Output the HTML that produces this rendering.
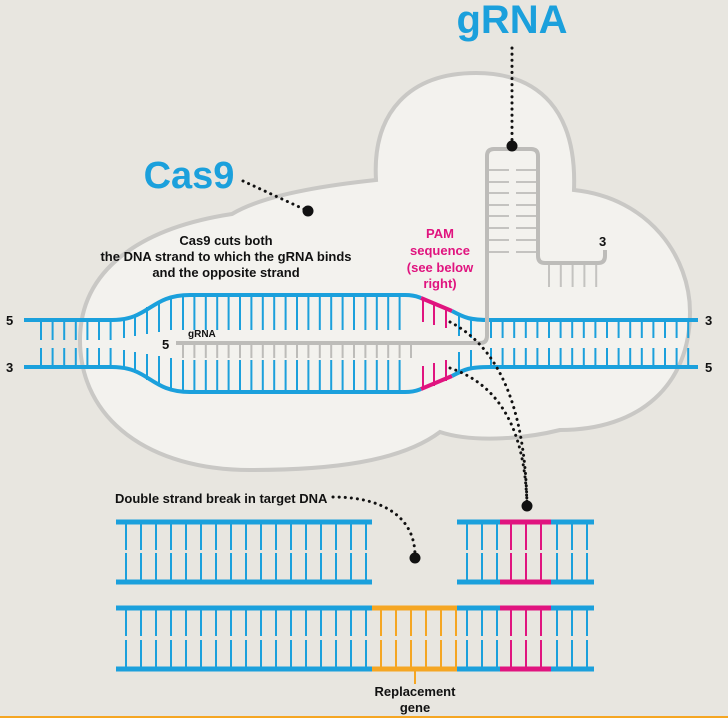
<!DOCTYPE html>
<html><head><meta charset="utf-8"><style>
html,body{margin:0;padding:0;background:#e8e6e0;}
svg{display:block}
text{font-family:"Liberation Sans",sans-serif;font-weight:bold}
</style></head><body>
<svg width="728" height="718" viewBox="0 0 728 718" xmlns="http://www.w3.org/2000/svg">
<rect width="728" height="718" fill="#e8e6e0"/>
<path d="M250,470 C150,470 80,420 80,340 C80,270 140,228 232,214 C255,200 300,188 376,180 C372,112 410,73 476,73 C540,73 577,112 574,190 C650,198 690,258 690,312 C690,385 640,430 560,430 C520,440 470,442 440,432 C400,462 330,470 250,470 Z" fill="#f3f2ee" stroke="#c9c8c5" stroke-width="4"/>

<g stroke="#1ba0dc" stroke-width="2">
 <line x1="40" y1="331" x2="116" y2="331" stroke-width="18" stroke-dasharray="2 9.6"/>
 <line x1="40" y1="357" x2="116" y2="357" stroke-width="18" stroke-dasharray="2 9.6"/>
 <line x1="182" y1="313" x2="410" y2="313" stroke-width="34" stroke-dasharray="2 9.4"/>
 <line x1="182" y1="376" x2="410" y2="376" stroke-width="32" stroke-dasharray="2 9.4"/>
 <line x1="490" y1="329" x2="698" y2="329" stroke-width="18" stroke-dasharray="2 9.6"/>
 <line x1="490" y1="357" x2="698" y2="357" stroke-width="18" stroke-dasharray="2 9.6"/>
 <line x1="124" y1="318" x2="124" y2="338"/><line x1="135" y1="314" x2="135" y2="336"/>
 <line x1="147" y1="307" x2="147" y2="334"/><line x1="159" y1="301" x2="159" y2="332"/>
 <line x1="171" y1="297" x2="171" y2="330"/>
 <line x1="124" y1="350" x2="124" y2="369"/><line x1="135" y1="352" x2="135" y2="373"/>
 <line x1="147" y1="354" x2="147" y2="380"/><line x1="159" y1="356" x2="159" y2="386"/>
 <line x1="171" y1="358" x2="171" y2="390"/>
 <line x1="459" y1="314" x2="459" y2="336"/><line x1="471" y1="318" x2="471" y2="338"/>
 <line x1="459" y1="352" x2="459" y2="373"/><line x1="471" y1="350" x2="471" y2="369"/>
</g>
<g stroke="#e0147f" stroke-width="2">
 <line x1="423" y1="299" x2="423" y2="322"/><line x1="434" y1="302" x2="434" y2="325"/><line x1="446" y1="307" x2="446" y2="328"/>
 <line x1="423" y1="366" x2="423" y2="389"/><line x1="434" y1="363" x2="434" y2="386"/><line x1="446" y1="360" x2="446" y2="381"/>
</g>
<line x1="182" y1="351" x2="412" y2="351" stroke="#bdbcb9" stroke-width="14" stroke-dasharray="2 9.4"/>
<g fill="none" stroke-width="4">
 <path d="M24,320 H112 C150,320 150,295 190,295 H405 C415,295 418,297 421,298" stroke="#1ba0dc"/>
 <path d="M421,298 L452,311" stroke="#e0147f"/>
 <path d="M452,311 C465,318 470,320 490,320 H698" stroke="#1ba0dc"/>
 <path d="M24,367 H112 C150,367 150,392 190,392 H405 C415,392 418,390 421,389" stroke="#1ba0dc"/>
 <path d="M421,389 L452,376" stroke="#e0147f"/>
 <path d="M452,376 C465,369 470,367 490,367 H698" stroke="#1ba0dc"/>
</g>
<g fill="none" stroke="#bdbcb9" stroke-width="4">
 <path d="M176,343 H480 Q487,343 487,336 V156 Q487,149 494,149 H531 Q538,149 538,156 V256 Q538,263 545,263 H598 Q605,263 605,256 V250"/>
</g>
<g stroke="#c4c3c0" stroke-width="2">
 <line x1="489" y1="170" x2="509" y2="170"/><line x1="516" y1="170" x2="536" y2="170"/>
 <line x1="489" y1="182" x2="509" y2="182"/><line x1="516" y1="182" x2="536" y2="182"/>
 <line x1="489" y1="193" x2="509" y2="193"/><line x1="516" y1="193" x2="536" y2="193"/>
 <line x1="489" y1="205" x2="509" y2="205"/><line x1="516" y1="205" x2="536" y2="205"/>
 <line x1="489" y1="216" x2="509" y2="216"/><line x1="516" y1="216" x2="536" y2="216"/>
 <line x1="489" y1="228" x2="509" y2="228"/><line x1="516" y1="228" x2="536" y2="228"/>
 <line x1="489" y1="240" x2="509" y2="240"/><line x1="516" y1="240" x2="536" y2="240"/>
 <line x1="489" y1="252" x2="509" y2="252"/><line x1="516" y1="252" x2="536" y2="252"/>
 <line x1="548" y1="276" x2="600" y2="276" stroke-width="22" stroke-dasharray="2 9.8"/>
</g>
<g fill="none" stroke="#111" stroke-width="3" stroke-dasharray="0.1 6" stroke-linecap="round">
 <path d="M512,48 V146"/>
 <path d="M243,181 L308,211"/>
 <path d="M450,322 C495,345 525,400 527,505"/>
 <path d="M450,368 C500,385 525,430 527,505"/>
 <path d="M333,497 C380,497 415,515 415,556"/>
</g>
<g fill="#111">
 <circle cx="512" cy="146" r="5.5"/><circle cx="308" cy="211" r="5.5"/>
 <circle cx="527" cy="506" r="5.5"/><circle cx="415" cy="558" r="5.5"/>
</g>
<text x="512" y="33" font-size="40" fill="#1ba0dc" text-anchor="middle">gRNA</text>
<text x="189" y="188" font-size="38" fill="#1ba0dc" text-anchor="middle">Cas9</text>
<g font-size="13" fill="#111" text-anchor="middle">
 <text x="226" y="245">Cas9 cuts both</text>
 <text x="226" y="261">the DNA strand to which the gRNA binds</text>
 <text x="226" y="277">and the opposite strand</text>
</g>
<g font-size="13" fill="#e0147f" text-anchor="middle">
 <text x="440" y="238">PAM</text><text x="440" y="255">sequence</text>
 <text x="440" y="272">(see below</text><text x="440" y="288">right)</text>
</g>
<g font-size="13" fill="#111">
 <text x="6" y="325">5</text><text x="6" y="372">3</text>
 <text x="705" y="325">3</text><text x="705" y="372">5</text>
 <text x="162" y="349">5</text><text x="599" y="246">3</text>
</g>
<text x="188" y="337" font-size="10" fill="#111">gRNA</text>

<!-- bottom rows: rungs -->
<g stroke-width="28" stroke-dasharray="2 13">
 <!-- row 1 -->
 <line x1="125" y1="536" x2="372" y2="536" stroke="#1ba0dc"/>
 <line x1="125" y1="567" x2="372" y2="567" stroke="#1ba0dc"/>
 <line x1="466" y1="536" x2="500" y2="536" stroke="#1ba0dc"/>
 <line x1="466" y1="567" x2="500" y2="567" stroke="#1ba0dc"/>
 <line x1="556" y1="536" x2="594" y2="536" stroke="#1ba0dc"/>
 <line x1="556" y1="567" x2="594" y2="567" stroke="#1ba0dc"/>
 <line x1="510" y1="536" x2="548" y2="536" stroke="#e0147f"/>
 <line x1="510" y1="567" x2="548" y2="567" stroke="#e0147f"/>
 <!-- row 2 -->
 <line x1="125" y1="622" x2="372" y2="622" stroke="#1ba0dc"/>
 <line x1="125" y1="654" x2="372" y2="654" stroke="#1ba0dc"/>
 <line x1="380" y1="622" x2="457" y2="622" stroke="#f5a623"/>
 <line x1="380" y1="654" x2="457" y2="654" stroke="#f5a623"/>
 <line x1="466" y1="622" x2="500" y2="622" stroke="#1ba0dc"/>
 <line x1="466" y1="654" x2="500" y2="654" stroke="#1ba0dc"/>
 <line x1="510" y1="622" x2="548" y2="622" stroke="#e0147f"/>
 <line x1="510" y1="654" x2="548" y2="654" stroke="#e0147f"/>
 <line x1="556" y1="622" x2="594" y2="622" stroke="#1ba0dc"/>
 <line x1="556" y1="654" x2="594" y2="654" stroke="#1ba0dc"/>
</g>
<g stroke-width="5">
 <line x1="116" y1="522" x2="372" y2="522" stroke="#1ba0dc"/><line x1="116" y1="582" x2="372" y2="582" stroke="#1ba0dc"/>
 <line x1="457" y1="522" x2="594" y2="522" stroke="#1ba0dc"/><line x1="457" y1="582" x2="594" y2="582" stroke="#1ba0dc"/>
 <line x1="500" y1="522" x2="551" y2="522" stroke="#e0147f"/><line x1="500" y1="582" x2="551" y2="582" stroke="#e0147f"/>
 <line x1="116" y1="608" x2="594" y2="608" stroke="#1ba0dc"/><line x1="116" y1="669" x2="594" y2="669" stroke="#1ba0dc"/>
 <line x1="372" y1="608" x2="457" y2="608" stroke="#f5a623"/><line x1="372" y1="669" x2="457" y2="669" stroke="#f5a623"/>
 <line x1="500" y1="608" x2="551" y2="608" stroke="#e0147f"/><line x1="500" y1="669" x2="551" y2="669" stroke="#e0147f"/>
</g>
<line x1="415" y1="669" x2="415" y2="684" stroke="#f5a623" stroke-width="2"/>
<text x="115" y="503" font-size="13" fill="#111">Double strand break in target DNA</text>
<g font-size="13" fill="#111" text-anchor="middle">
 <text x="415" y="696">Replacement</text><text x="415" y="712">gene</text>
</g>
<line x1="0" y1="717" x2="728" y2="717" stroke="#f5a623" stroke-width="2"/>
</svg>
</body></html>
